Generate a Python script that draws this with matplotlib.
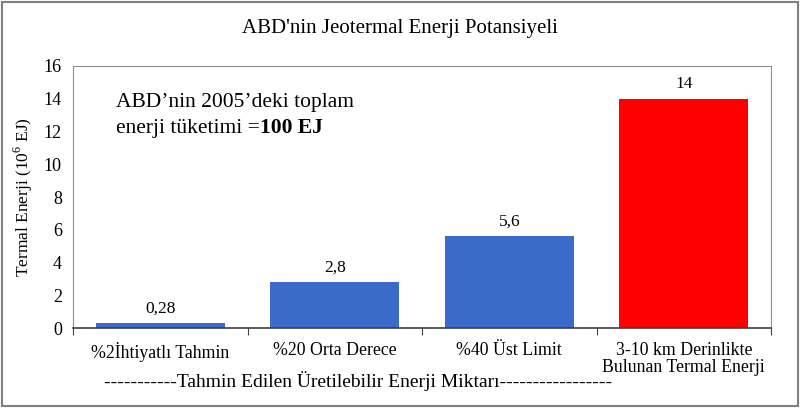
import matplotlib.pyplot as plt
from matplotlib.patches import Rectangle
from matplotlib.transforms import offset_copy

plt.rcParams['font.family'] = ['Liberation Serif', 'DejaVu Serif']
plt.rcParams['mathtext.fontset'] = 'custom'
plt.rcParams['mathtext.rm'] = 'Liberation Serif'

categories = ['%2İhtiyatlı Tahmin', '%20 Orta Derece', '%40 Üst Limit',
              '3-10 km Derinlikte\nBulunan Termal Enerji']
values = [0.28, 2.8, 5.6, 14]
value_labels = ['0,28', '2,8', '5,6', '14']
colors = ['#3A6BCB', '#3A6BCB', '#3A6BCB', '#FF0000']

fig = plt.figure(figsize=(8, 4.11), dpi=100)
ax = fig.add_axes([73 / 800, 1 - 328 / 411, 698 / 800, 262 / 411])

x = range(len(categories))
bars = ax.bar(x, values, width=0.74, color=colors)
for b, lab in zip(bars, value_labels):
    ax.annotate(lab, (b.get_x() + b.get_width() / 2, b.get_height()),
                xytext=(0, 5), textcoords='offset points',
                ha='center', va='bottom', fontsize=12.5)

ax.set_xlim(-0.5, 3.5)
ax.set_ylim(0, 16)
ax.set_yticks(range(0, 17, 2))
ax.set_xticks([-0.5, 0.5, 1.5, 2.5, 3.5], minor=False)
ax.set_xticklabels([])
ax.set_xticks(list(x), minor=True)
ax.set_xticklabels(categories, minor=True, fontsize=12.8, va='top',
                   linespacing=1.0)
ax.tick_params(axis='x', which='major', length=5, direction='out', color='#404040')
ax.tick_params(axis='x', which='minor', length=0, pad=10)
ax.tick_params(axis='y', length=0, labelsize=13, pad=8)

for side in ['top', 'right', 'left']:
    ax.spines[side].set_color('#909090')
ax.spines['bottom'].set_color('#404040')
ax.spines['bottom'].set_linewidth(1.2)

ax.set_ylabel(r'Termal Enerji (10$^6$ EJ)', fontsize=12.5, labelpad=6)

ax.text(0.062, 0.862, 'ABD’nin 2005’deki toplam', transform=ax.transAxes,
        fontsize=15.5, va='center')
t = ax.text(0.062, 0.763, 'enerji tüketimi =', transform=ax.transAxes,
            fontsize=15.5, va='center')
fig.canvas.draw()
w = t.get_window_extent().width
ax.text(0.062, 0.763, '100 EJ', fontsize=15.5, va='center', fontweight='bold',
        transform=offset_copy(ax.transAxes, fig=fig, x=w, y=0, units='dots'))

fig.text(358 / 800, 1 - 381 / 411,
         '-----------Tahmin Edilen Üretilebilir Enerji Miktarı-----------------',
         ha='center', va='center', fontsize=14)

fig.text(400 / 800, 1 - 28 / 411, "ABD'nin Jeotermal Enerji Potansiyeli",
         ha='center', va='center', fontsize=15)

fig.patches.append(Rectangle((2 / 800, 5 / 411), 796 / 800, 404 / 411,
                             transform=fig.transFigure, fill=False,
                             edgecolor='#808080', linewidth=1.5))

fig.savefig('out.png', dpi=100)
